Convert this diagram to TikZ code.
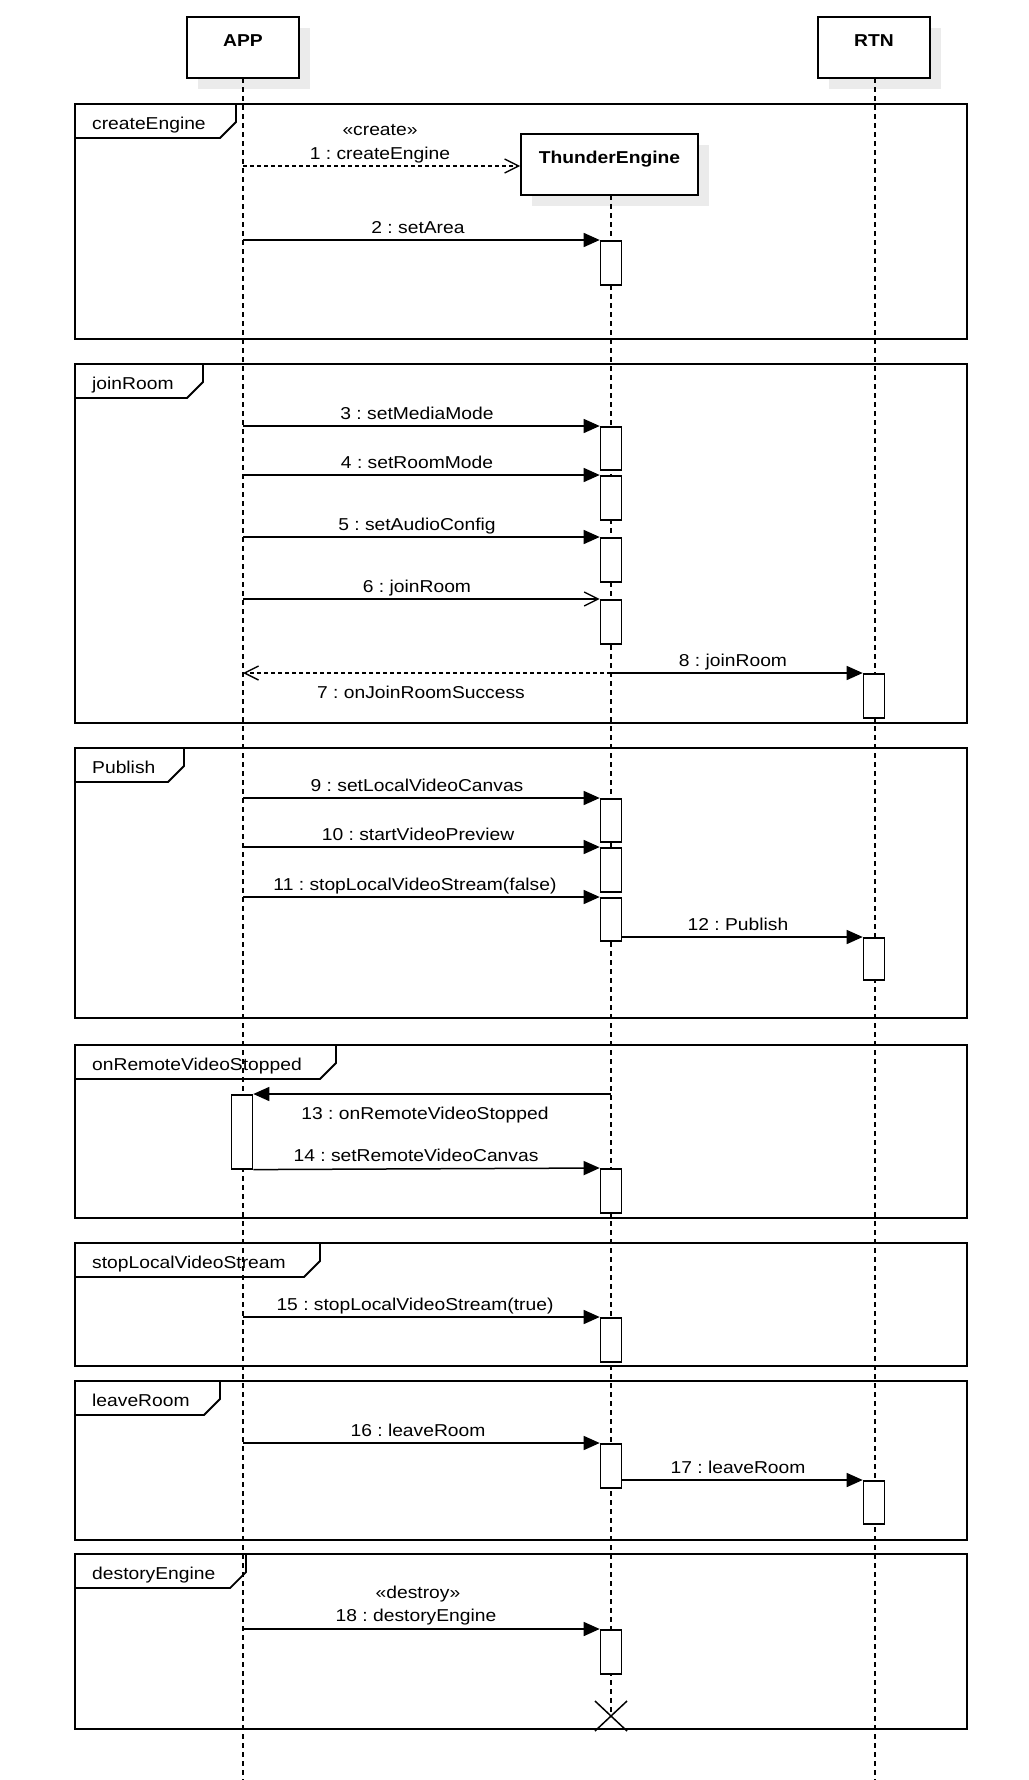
\documentclass[tikz,border=0pt]{standalone}
\usepackage{fontspec}
\setmainfont{Liberation Sans}[FakeStretch=1.12]
\usetikzlibrary{arrows.meta}
\definecolor{shadowgray}{HTML}{EBEBEB}
\frenchspacing
\begin{document}
\begin{tikzpicture}[x=1pt,y=-1pt,
  font=\fontsize{17.2}{22}\selectfont,
  frame/.style={draw, line width=1.8pt},
  life/.style={draw, line width=1.3pt, dash pattern=on 5pt off 4pt},
  headbox/.style={draw, fill=white, line width=1.7pt, inner sep=0pt},
  headtxt/.style={anchor=base, font=\fontsize{17.2}{22}\selectfont\bfseries, inner sep=0pt},
  act/.style={draw, fill=white, line width=1.6pt, minimum width=21pt, inner sep=0pt, anchor=north},
  lbl/.style={anchor=base, inner sep=0pt},
  tabtxt/.style={anchor=base west, inner sep=0pt},
  msg/.style={line width=1.5pt, -{Triangle[length=16pt,width=14pt]}},
  omsg/.style={line width=1.5pt, -{Straight Barb[length=14pt,width=14pt,line width=1.4pt]}},
  dmsg/.style={line width=1.5pt, dash pattern=on 4pt off 3pt, -{Straight Barb[length=14pt,width=14pt,line width=1.4pt,sep=0pt]}},
]
\useasboundingbox (0,0) rectangle (1028,1780);
\fill[white] (0,0) rectangle (1028,1780);

% frames
\foreach \t/\b/\r/\n in {104/339/236/createEngine, 364/723/203/joinRoom, 748/1018/184/Publish, 1045/1218/336/onRemoteVideoStopped, 1243/1366/320/stopLocalVideoStream, 1381/1540/220/leaveRoom, 1554/1729/246/destoryEngine}{
  \draw[frame] (75,\t) rectangle (967,\b);
  \draw[frame] (75,{\t+34}) -- ({\r-16},{\t+34}) -- (\r,{\t+18}) -- (\r,\t);
  \node[tabtxt] at (92,{\t+25}) {\n};
}

% shadows
\fill[shadowgray] (198,28) rectangle (310,89);
\fill[shadowgray] (829,28) rectangle (941,89);
\fill[shadowgray] (532,145) rectangle (709,206);

% heads
\node[headbox, minimum width=112pt, minimum height=61pt] (app) at (243,47.5) {};
\node[headtxt] at (243,46) {APP};
\node[headbox, minimum width=112pt, minimum height=61pt] (rtn) at (874,47.5) {};
\node[headtxt] at (874,46) {RTN};
\node[headbox, minimum width=177pt, minimum height=61pt] (te) at (609.5,164.5) {};
\node[headtxt] at (609.5,163) {ThunderEngine};

% lifelines
\coordinate (append) at (243,1780);
\coordinate (rtnend) at (875,1780);
\coordinate (teend) at (611,1716);
\draw[life] (243,78) -- (append);
\draw[life] (875,78) -- (rtnend);
\draw[life] (611,195) -- (teend);

% destruction mark
\draw[line width=1.5pt] (595,1701) -- (627,1731) (595,1731) -- (627,1701);

% activations
\node[act, minimum height=44pt] (a2) at (611,240) {};
\node[act, minimum height=43pt] (a3) at (611,426) {};
\node[act, minimum height=44pt] (a4) at (611,475) {};
\node[act, minimum height=44pt] (a5) at (611,537) {};
\node[act, minimum height=44pt] (a6) at (611,599) {};
\node[act, minimum height=44pt] (r8) at (874,673) {};
\node[act, minimum height=43pt] (a9) at (611,798) {};
\node[act, minimum height=44pt] (a10) at (611,847) {};
\node[act, minimum height=43pt] (a11) at (611,897) {};
\node[act, minimum height=42pt] (r12) at (874,937) {};
\node[act, minimum height=74pt] (p13) at (242,1094) {};
\node[act, minimum height=44pt] (a14) at (611,1168) {};
\node[act, minimum height=44pt] (a15) at (611,1317) {};
\node[act, minimum height=44pt] (a16) at (611,1443) {};
\node[act, minimum height=43pt] (r17) at (874,1480) {};
\node[act, minimum height=44pt] (a18) at (611,1629) {};

% message start points
\coordinate (s1) at (243,166);
\coordinate (s2) at (243,240);
\coordinate (s3) at (243,426);
\coordinate (s4) at (243,475);
\coordinate (s5) at (243,537);
\coordinate (s6) at (243,599);
\coordinate (s78) at (611,673);
\coordinate (e7) at (243,673);
\coordinate (s9) at (243,798);
\coordinate (s10) at (243,847);
\coordinate (s11) at (243,897);
\coordinate (s13) at (611,1094);
\coordinate (s15) at (243,1317);
\coordinate (s16) at (243,1443);
\coordinate (s18) at (243,1629);

% messages
\draw[dmsg] (s1) -- (te.west |- s1);
\node[lbl] at (380,135) {«create»};
\node[lbl] at (380,159) {1 : createEngine};

\draw[msg] (s2) -- (a2.north west);
\node[lbl] at (418,233) {2 : setArea};

\draw[msg] (s3) -- (a3.north west);
\node[lbl] at (417,419) {3 : setMediaMode};

\draw[msg] (s4) -- (a4.north west);
\node[lbl] at (417,468) {4 : setRoomMode};

\draw[msg] (s5) -- (a5.north west);
\node[lbl] at (417,530) {5 : setAudioConfig};

\draw[omsg] (s6) -- (a6.north west);
\node[lbl] at (417,592) {6 : joinRoom};

\draw[dmsg] (s78) -- (e7);
\node[lbl] at (421,698) {7 : onJoinRoomSuccess};

\draw[msg] (s78) -- (r8.north west);
\node[lbl] at (733,666) {8 : joinRoom};

\draw[msg] (s9) -- (a9.north west);
\node[lbl] at (417,791) {9 : setLocalVideoCanvas};

\draw[msg] (s10) -- (a10.north west);
\node[lbl] at (418,840) {10 : startVideoPreview};

\draw[msg] (s11) -- (a11.north west);
\node[lbl] at (415,890) {11 : stopLocalVideoStream(false)};

\draw[msg] (a11.east |- r12.north) -- (r12.north west);
\node[lbl] at (738,930) {12 : Publish};

\draw[msg] (s13) -- (p13.north east);
\node[lbl] at (425,1119) {13 : onRemoteVideoStopped};

\draw[msg] (p13.south east) -- (a14.north west);
\node[lbl] at (416,1161) {14 : setRemoteVideoCanvas};

\draw[msg] (s15) -- (a15.north west);
\node[lbl] at (415,1310) {15 : stopLocalVideoStream(true)};

\draw[msg] (s16) -- (a16.north west);
\node[lbl] at (418,1436) {16 : leaveRoom};

\draw[msg] (a16.east |- r17.north) -- (r17.north west);
\node[lbl] at (738,1473) {17 : leaveRoom};

\draw[msg] (s18) -- (a18.north west);
\node[lbl] at (418,1598) {«destroy»};
\node[lbl] at (416,1621) {18 : destoryEngine};

\end{tikzpicture}
\end{document}
